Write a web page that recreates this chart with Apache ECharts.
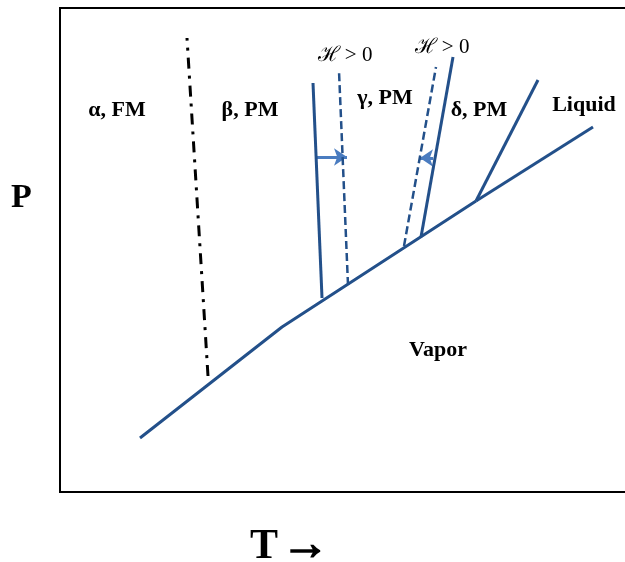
<!DOCTYPE html>
<html>
<head>
<meta charset="utf-8">
<script src="https://cdn.jsdelivr.net/npm/echarts@6/dist/echarts.min.js"></script>
<style>
  html, body { margin: 0; padding: 0; background: #fff; }
  #chart { width: 625px; height: 562px; }
</style>
</head>
<body>
<div id="chart"></div>
<script>
// Schematic P–T phase diagram of iron (arbitrary units)

// Vapor coexistence curve (solid/liquid against vapor)
const vaporT = [80, 222, 416];
const vaporP = [54, 165, 291];

// Liquid–vapor curve
const liquidT = [416, 533];
const liquidP = [291, 365];

// δ–liquid melting curve
const meltT = [416, 478];
const meltP = [291, 412];

// α–β magnetic (Curie) boundary
const curieT = [148, 127];
const curieP = [116, 454];

// β–γ boundary (H = 0) and shifted boundary (H > 0)
const betaGammaT = [262, 253];
const betaGammaP = [194, 409];
const betaGammaFieldT = [288, 279];
const betaGammaFieldP = [207, 421];

// γ–δ boundary (H = 0) and shifted boundary (H > 0)
const gammaDeltaT = [361, 393];
const gammaDeltaP = [255, 435];
const gammaDeltaFieldT = [344, 376];
const gammaDeltaFieldP = [246, 425];

// Field-induced shifts of the boundaries [T0, T1, P]
const shiftArrows = [
  [257, 287, 335],
  [373, 360, 334]
];

// Phase-region labels
const phaseNames = ['α, FM', 'β, PM', 'γ, PM', 'δ, PM', 'Liquid', 'Vapor'];
const phaseT = [57, 190, 325, 419, 524, 378];
const phaseP = [382, 382, 394, 382, 387, 142];

// Field labels
const fieldNames = ['ℋ > 0', 'ℋ > 0'];
const fieldT = [285, 382];
const fieldP = [437, 445];

const zip = (xs, ys) => xs.map((x, i) => [x, ys[i]]);

const BLUE = '#23508a';
const ARROW = '#4a7cc0';
const FONT = '"Liberation Serif", "Times New Roman", serif';

function curve(name, xs, ys, style) {
  return {
    name: name,
    type: 'line',
    data: zip(xs, ys),
    symbol: 'none',
    silent: true,
    lineStyle: Object.assign({ color: BLUE, width: 3, cap: 'butt' }, style || {})
  };
}

const chart = echarts.init(document.getElementById('chart'));

chart.setOption({
  animation: false,
  grid: {
    left: 60, top: 8, width: 600, height: 484,
    outerBoundsMode: 'none',
    show: true, borderColor: '#000', borderWidth: 2, backgroundColor: 'transparent'
  },
  xAxis: {
    type: 'value', min: 0, max: 600,
    axisLine: { show: false }, axisTick: { show: false },
    axisLabel: { show: false }, splitLine: { show: false }
  },
  yAxis: {
    type: 'value', min: 0, max: 484,
    axisLine: { show: false }, axisTick: { show: false },
    axisLabel: { show: false }, splitLine: { show: false }
  },
  graphic: [
    {
      type: 'text', left: 250, top: 522,
      style: {
        text: '{t|T} {a|→}',
        rich: {
          t: { font: 'bold 42px ' + FONT, fill: '#000' },
          a: { font: 'bold 48px ' + FONT, fill: '#000', stroke: '#000', lineWidth: 1.5 }
        }
      }
    },
    {
      type: 'text', left: 11, top: 181,
      style: { text: 'P', font: 'bold 34px ' + FONT, fill: '#000' }
    }
  ],
  series: [
    curve('vapor', vaporT, vaporP),
    curve('liquid', liquidT, liquidP),
    curve('melting', meltT, meltP),
    curve('curie', curieT, curieP, { color: '#000', width: 3, type: [11, 7, 3, 7] }),
    curve('beta-gamma', betaGammaT, betaGammaP),
    curve('beta-gamma H>0', betaGammaFieldT, betaGammaFieldP, { type: [8, 4], width: 2.5 }),
    curve('gamma-delta', gammaDeltaT, gammaDeltaP),
    curve('gamma-delta H>0', gammaDeltaFieldT, gammaDeltaFieldP, { type: [8, 4], width: 2.5 }),
    {
      name: 'shift',
      type: 'lines',
      coordinateSystem: 'cartesian2d',
      silent: true,
      symbol: ['none', 'arrow'],
      symbolSize: 13,
      lineStyle: { color: ARROW, width: 3, opacity: 1 },
      data: shiftArrows.map(a => ({ coords: [[a[0], a[2]], [a[1], a[2]]] }))
    },
    {
      name: 'phases',
      type: 'scatter',
      symbolSize: 0,
      silent: true,
      itemStyle: { opacity: 1 },
      data: zip(phaseT, phaseP).map((c, i) => ({ value: c, name: phaseNames[i] })),
      label: {
        show: true, position: 'inside', formatter: p => p.name,
        fontFamily: FONT, fontWeight: 'bold', fontSize: 22, color: '#000',
        textBorderWidth: 0, opacity: 1
      }
    },
    {
      name: 'field',
      type: 'scatter',
      symbolSize: 0,
      silent: true,
      itemStyle: { opacity: 1 },
      data: zip(fieldT, fieldP).map((c, i) => ({ value: c, name: fieldNames[i] })),
      label: {
        show: true, position: 'inside', formatter: p => p.name,
        fontFamily: FONT, fontSize: 21, color: '#000',
        textBorderWidth: 0, opacity: 1
      }
    }
  ]
});
</script>
</body>
</html>
